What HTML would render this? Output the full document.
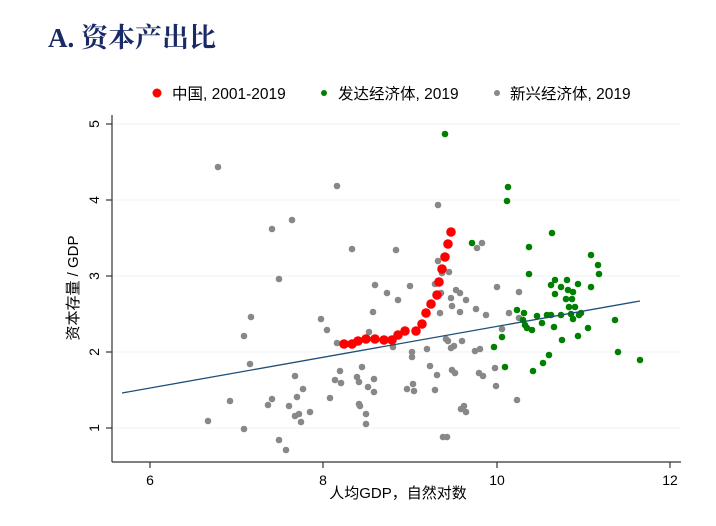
<!DOCTYPE html>
<html><head><meta charset="utf-8"><style>
body{margin:0;background:#fff;}
svg text{font-family:"Liberation Sans","Noto Sans CJK SC",sans-serif;}
</style></head><body>
<svg width="716" height="521" xmlns="http://www.w3.org/2000/svg">
<rect width="716" height="521" fill="#fff"/>
<text x="48" y="47" font-size="27" font-weight="bold" fill="#1a2a66" style="font-family:'Liberation Serif','Noto Serif CJK SC',serif">A. 资本产出比</text>
<circle cx="157" cy="93" r="4.5" fill="#f00"/>
<text x="172" y="99" font-size="15.5" fill="#000">中国, 2001-2019</text>
<circle cx="324" cy="93" r="3" fill="#008000"/>
<text x="338" y="99" font-size="15.5" fill="#000">发达经济体, 2019</text>
<circle cx="497" cy="93" r="3" fill="#888"/>
<text x="510" y="99" font-size="15.5" fill="#000">新兴经济体, 2019</text>
<g stroke="#eef2f4" stroke-width="1">
<line x1="113" y1="124" x2="681" y2="124"/><line x1="113" y1="200" x2="681" y2="200"/><line x1="113" y1="276" x2="681" y2="276"/><line x1="113" y1="352" x2="681" y2="352"/><line x1="113" y1="428" x2="681" y2="428"/>
</g>
<g stroke="#333" stroke-width="1.2" fill="none">
<line x1="112" y1="115" x2="112" y2="462"/><line x1="112" y1="462" x2="681" y2="462"/>
<line x1="106" y1="124" x2="112" y2="124"/><line x1="106" y1="200" x2="112" y2="200"/><line x1="106" y1="276" x2="112" y2="276"/><line x1="106" y1="352" x2="112" y2="352"/><line x1="106" y1="428" x2="112" y2="428"/>
<line x1="150" y1="462" x2="150" y2="468"/><line x1="323" y1="462" x2="323" y2="468"/><line x1="497" y1="462" x2="497" y2="468"/><line x1="670" y1="462" x2="670" y2="468"/>
</g>
<g font-size="14" fill="#000" text-anchor="middle">
<text x="150" y="485">6</text><text x="323" y="485">8</text><text x="497" y="485">10</text><text x="670" y="485">12</text>
<text transform="translate(99,124) rotate(-90)">5</text>
<text transform="translate(99,200) rotate(-90)">4</text>
<text transform="translate(99,276) rotate(-90)">3</text>
<text transform="translate(99,352) rotate(-90)">2</text>
<text transform="translate(99,428) rotate(-90)">1</text>
<text x="398" y="498" font-size="15">人均GDP，自然对数</text>
<text transform="translate(78,288) rotate(-90)" font-size="15">资本存量 / GDP</text>
</g>
<g fill="#888">
<circle cx="218" cy="167" r="3.3"/><circle cx="337" cy="186" r="3.3"/><circle cx="272" cy="229" r="3.3"/><circle cx="292" cy="220" r="3.3"/><circle cx="352" cy="249" r="3.3"/><circle cx="396" cy="250" r="3.3"/><circle cx="279" cy="279" r="3.3"/><circle cx="375" cy="285" r="3.3"/><circle cx="387" cy="293" r="3.3"/><circle cx="398" cy="300" r="3.3"/><circle cx="251" cy="317" r="3.3"/><circle cx="321" cy="319" r="3.3"/><circle cx="373" cy="312" r="3.3"/><circle cx="327" cy="330" r="3.3"/><circle cx="244" cy="336" r="3.3"/><circle cx="369" cy="332" r="3.3"/><circle cx="337" cy="343" r="3.3"/><circle cx="393" cy="347" r="3.3"/><circle cx="250" cy="364" r="3.3"/><circle cx="362" cy="367" r="3.3"/><circle cx="340" cy="371" r="3.3"/><circle cx="295" cy="376" r="3.3"/><circle cx="357" cy="377" r="3.3"/><circle cx="335" cy="380" r="3.3"/><circle cx="374" cy="379" r="3.3"/><circle cx="341" cy="383" r="3.3"/><circle cx="359" cy="382" r="3.3"/><circle cx="303" cy="389" r="3.3"/><circle cx="368" cy="387" r="3.3"/><circle cx="374" cy="392" r="3.3"/><circle cx="297" cy="397" r="3.3"/><circle cx="330" cy="398" r="3.3"/><circle cx="230" cy="401" r="3.3"/><circle cx="272" cy="399" r="3.3"/><circle cx="268" cy="405" r="3.3"/><circle cx="289" cy="406" r="3.3"/><circle cx="359" cy="404" r="3.3"/><circle cx="360" cy="406" r="3.3"/><circle cx="310" cy="412" r="3.3"/><circle cx="299" cy="414" r="3.3"/><circle cx="295" cy="416" r="3.3"/><circle cx="366" cy="414" r="3.3"/><circle cx="208" cy="421" r="3.3"/><circle cx="301" cy="422" r="3.3"/><circle cx="366" cy="424" r="3.3"/><circle cx="244" cy="429" r="3.3"/><circle cx="279" cy="440" r="3.3"/><circle cx="286" cy="450" r="3.3"/>
<circle cx="410" cy="286" r="3.3"/><circle cx="438" cy="205" r="3.3"/><circle cx="438" cy="261" r="3.3"/><circle cx="442" cy="273" r="3.3"/><circle cx="449" cy="272" r="3.3"/><circle cx="435" cy="284" r="3.3"/><circle cx="441" cy="293" r="3.3"/><circle cx="451" cy="298" r="3.3"/><circle cx="456" cy="290" r="3.3"/><circle cx="460" cy="293" r="3.3"/><circle cx="452" cy="306" r="3.3"/><circle cx="466" cy="300" r="3.3"/><circle cx="460" cy="312" r="3.3"/><circle cx="440" cy="313" r="3.3"/><circle cx="476" cy="309" r="3.3"/><circle cx="486" cy="315" r="3.3"/><circle cx="477" cy="248" r="3.3"/><circle cx="482" cy="243" r="3.3"/><circle cx="497" cy="287" r="3.3"/><circle cx="519" cy="292" r="3.3"/><circle cx="509" cy="313" r="3.3"/><circle cx="519" cy="318" r="3.3"/><circle cx="502" cy="329" r="3.3"/><circle cx="412" cy="352" r="3.3"/><circle cx="412" cy="357" r="3.3"/><circle cx="427" cy="349" r="3.3"/><circle cx="446" cy="339" r="3.3"/><circle cx="448" cy="341" r="3.3"/><circle cx="451" cy="348" r="3.3"/><circle cx="454" cy="346" r="3.3"/><circle cx="462" cy="341" r="3.3"/><circle cx="475" cy="351" r="3.3"/><circle cx="480" cy="349" r="3.3"/><circle cx="430" cy="366" r="3.3"/><circle cx="437" cy="375" r="3.3"/><circle cx="452" cy="370" r="3.3"/><circle cx="455" cy="373" r="3.3"/><circle cx="479" cy="373" r="3.3"/><circle cx="483" cy="376" r="3.3"/><circle cx="495" cy="368" r="3.3"/><circle cx="496" cy="386" r="3.3"/><circle cx="407" cy="389" r="3.3"/><circle cx="413" cy="384" r="3.3"/><circle cx="414" cy="391" r="3.3"/><circle cx="435" cy="390" r="3.3"/><circle cx="517" cy="400" r="3.3"/><circle cx="461" cy="409" r="3.3"/><circle cx="464" cy="406" r="3.3"/><circle cx="466" cy="412" r="3.3"/><circle cx="443" cy="437" r="3.3"/><circle cx="447" cy="437" r="3.3"/>
</g>
<g fill="#008000">
<circle cx="445" cy="134" r="3.3"/><circle cx="508" cy="187" r="3.3"/><circle cx="507" cy="201" r="3.3"/><circle cx="552" cy="233" r="3.3"/><circle cx="472" cy="243" r="3.3"/><circle cx="529" cy="247" r="3.3"/><circle cx="591" cy="255" r="3.3"/><circle cx="598" cy="265" r="3.3"/><circle cx="599" cy="274" r="3.3"/><circle cx="529" cy="274" r="3.3"/><circle cx="551" cy="285" r="3.3"/><circle cx="555" cy="280" r="3.3"/><circle cx="561" cy="287" r="3.3"/><circle cx="567" cy="280" r="3.3"/><circle cx="578" cy="284" r="3.3"/><circle cx="591" cy="287" r="3.3"/><circle cx="568" cy="290" r="3.3"/><circle cx="573" cy="292" r="3.3"/><circle cx="555" cy="294" r="3.3"/><circle cx="566" cy="299" r="3.3"/><circle cx="572" cy="299" r="3.3"/><circle cx="569" cy="307" r="3.3"/><circle cx="575" cy="307" r="3.3"/><circle cx="517" cy="310" r="3.3"/><circle cx="524" cy="313" r="3.3"/><circle cx="537" cy="316" r="3.3"/><circle cx="547" cy="315" r="3.3"/><circle cx="551" cy="315" r="3.3"/><circle cx="561" cy="315" r="3.3"/><circle cx="571" cy="314" r="3.3"/><circle cx="579" cy="315" r="3.3"/><circle cx="581" cy="313" r="3.3"/><circle cx="573" cy="319" r="3.3"/><circle cx="523" cy="320" r="3.3"/><circle cx="525" cy="325" r="3.3"/><circle cx="542" cy="323" r="3.3"/><circle cx="527" cy="328" r="3.3"/><circle cx="532" cy="330" r="3.3"/><circle cx="554" cy="327" r="3.3"/><circle cx="615" cy="320" r="3.3"/><circle cx="588" cy="328" r="3.3"/><circle cx="578" cy="336" r="3.3"/><circle cx="562" cy="340" r="3.3"/><circle cx="502" cy="337" r="3.3"/><circle cx="494" cy="347" r="3.3"/><circle cx="618" cy="352" r="3.3"/><circle cx="549" cy="355" r="3.3"/><circle cx="543" cy="363" r="3.3"/><circle cx="640" cy="360" r="3.3"/><circle cx="505" cy="367" r="3.3"/><circle cx="533" cy="371" r="3.3"/>
</g>
<line x1="122" y1="393" x2="640" y2="301" stroke="#1f4e79" stroke-width="1.3"/>
<g fill="#f00">
<circle cx="344" cy="344" r="4.8"/><circle cx="352" cy="344" r="4.8"/><circle cx="358" cy="341" r="4.8"/><circle cx="366" cy="339" r="4.8"/><circle cx="375" cy="339" r="4.8"/><circle cx="384" cy="340" r="4.8"/><circle cx="392" cy="340" r="4.8"/><circle cx="398" cy="335" r="4.8"/><circle cx="405" cy="331" r="4.8"/><circle cx="416" cy="331" r="4.8"/><circle cx="422" cy="324" r="4.8"/><circle cx="426" cy="313" r="4.8"/><circle cx="431" cy="304" r="4.8"/><circle cx="437" cy="295" r="4.8"/><circle cx="439" cy="282" r="4.8"/><circle cx="442" cy="269" r="4.8"/><circle cx="445" cy="257" r="4.8"/><circle cx="448" cy="244" r="4.8"/><circle cx="451" cy="232" r="4.8"/>
</g>
</svg>
</body></html>
